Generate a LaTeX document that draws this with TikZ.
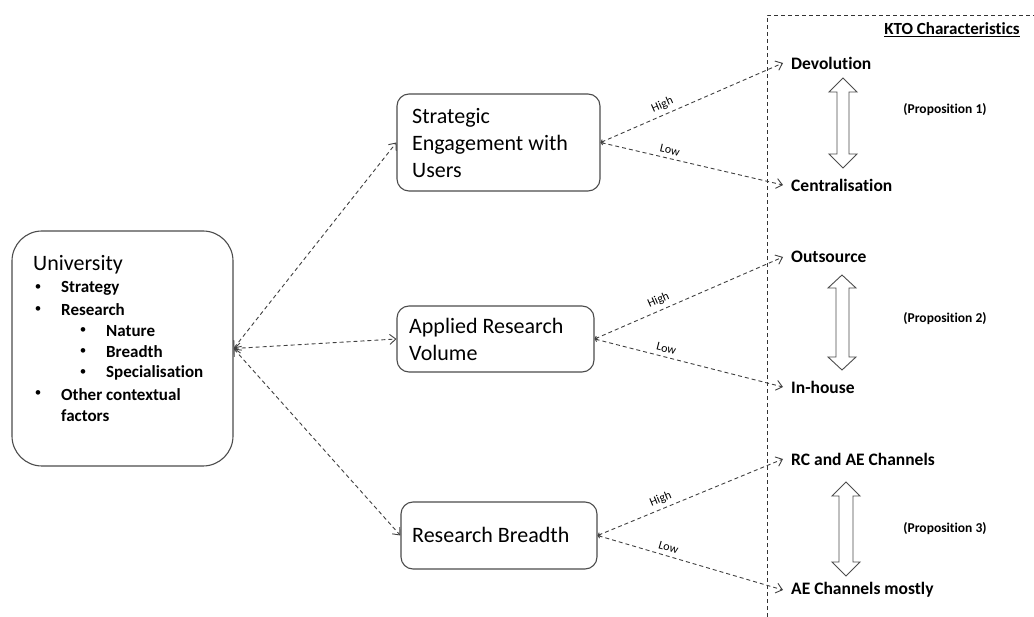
\documentclass[tikz,border=0pt]{standalone}
\usepackage{fontspec}
\setmainfont{Carlito}[Ligatures=NoCommon]
\usetikzlibrary{arrows.meta}
\begin{document}
\begin{tikzpicture}[x=1pt,y=-1pt,
  box/.style={draw=black!70, line width=1.1pt, rounded corners=12pt, inner sep=0pt},
  bigfont/.style={font=\fontsize{22}{27}\selectfont},
  listfont/.style={font=\fontsize{17}{21}\bfseries\selectfont},
  bul/.style={font=\fontsize{13}{15}\selectfont, anchor=center, inner sep=0pt},
  lab/.style={font=\fontsize{17.5}{21}\bfseries\selectfont, anchor=west, inner xsep=8pt, inner ysep=2pt},
  prop/.style={font=\fontsize{13.5}{16}\bfseries\selectfont},
  hl/.style={font=\fontsize{12}{14}\selectfont, sloped, above, inner sep=1pt, yshift=3pt},
  dsh/.style={dash pattern=on 4pt off 3pt},
  conn/.style={draw=black!75, line width=0.9pt, dsh,
    {Straight Barb[length=6pt,width=10pt]}-{Straight Barb[length=6pt,width=10pt]}},
  conn2/.style={draw=black!75, line width=0.9pt, dsh,
    {Straight Barb[length=2pt,width=4pt]}-{Straight Barb[length=6pt,width=10pt]}},
  blk/.style={draw=black!70, line width=0.9pt, fill=white}
]
\useasboundingbox (0,0) rectangle (1034,617);

% KTO frame
\draw[black!80, line width=0.9pt, dsh] (767,617) -- (767,15) -- (1034,15);
\node[font=\fontsize{17}{20}\bfseries\selectfont, inner sep=0pt] (kto) at (952,30) {\underline{KTO Characteristics}};

% University box
\node[box, rounded corners=30pt, minimum width=221pt, minimum height=235pt] (uni) at (122.5,348.5) {};
\node[font=\fontsize{22}{26}\selectfont, anchor=west, inner sep=0pt] (unit) at (33,265) {University};
\node[bul] (b1) at (38,288) {•};
\node[listfont, anchor=west, inner sep=0pt] (t1) at (61,288) {Strategy};
\node[bul] (b2) at (38,310) {•};
\node[listfont, anchor=west, inner sep=0pt] (t2) at (61,310) {Research};
\node[bul] (b3) at (83,331) {•};
\node[listfont, anchor=west, inner sep=0pt] (t3) at (106,331) {Nature};
\node[bul] (b4) at (83,352) {•};
\node[listfont, anchor=west, inner sep=0pt] (t4) at (106,352) {Breadth};
\node[bul] (b5) at (83,373) {•};
\node[listfont, anchor=west, inner sep=0pt] (t5) at (106,373) {Specialisation};
\node[bul] (b6) at (38,394) {•};
\node[listfont, anchor=west, inner sep=0pt, align=left] (t6) at (61,405) {Other contextual\\factors};

% Middle boxes
\node[box, minimum width=203pt, minimum height=97pt] (seu) at (498.5,142.5) {};
\node[bigfont, anchor=west, align=left, inner sep=0pt] (seut) at (412,143) {Strategic\\Engagement with\\Users};
\node[box, minimum width=197pt, minimum height=66pt] (arv) at (495.5,339) {};
\node[bigfont, anchor=west, align=left, inner sep=0pt] (arvt) at (409,339) {Applied Research\\Volume};
\node[box, minimum width=196pt, minimum height=67pt] (rb) at (499,535.5) {};
\node[bigfont, anchor=west, inner sep=0pt] (rbt) at (412,535) {Research Breadth};

% Right labels
\node[lab] (dev) at (783,63) {Devolution};
\node[lab] (cen) at (783,185) {Centralisation};
\node[lab] (out) at (783,257) {Outsource};
\node[lab] (inh) at (783,387) {In-house};
\node[lab] (rc) at (783,459) {RC and AE Channels};
\node[lab] (ae) at (783,590) {AE Channels mostly};

% Propositions
\node[prop] (p1) at (945,110) {(Proposition 1)};
\node[prop] (p2) at (945,319) {(Proposition 2)};
\node[prop] (p3) at (945,529) {(Proposition 3)};

% Block double arrows
\draw[blk] (843,78) -- (857,92) -- (849,92) -- (849,154) -- (857,154) -- (843,168) -- (829,154) -- (837,154) -- (837,92) -- (829,92) -- cycle;
\draw[blk] (842,275) -- (856,288) -- (849,288) -- (849,357) -- (856,357) -- (842,370) -- (828,357) -- (836,357) -- (836,288) -- (828,288) -- cycle;
\draw[blk] (846,482) -- (860,496) -- (853,496) -- (853,562) -- (860,562) -- (846,576) -- (832,562) -- (839,562) -- (839,496) -- (832,496) -- cycle;

% Connectors from University
\draw[conn] (uni.east) -- (seu.west);
\draw[conn] (uni.east) -- (arv.west);
\draw[conn] (uni.east) -- (rb.west);

% Connectors to characteristics
\draw[conn2] (seu.east) -- node[hl, pos=0.36] {High} (dev.west);
\draw[conn2] (seu.east) -- node[hl, pos=0.37] {Low} (cen.west);
\draw[conn2] (arv.east) -- node[hl, pos=0.36] {High} (out.west);
\draw[conn2] (arv.east) -- node[hl, pos=0.37] {Low} (inh.west);
\draw[conn2] (rb.east) -- node[hl, pos=0.36] {High} (rc.west);
\draw[conn2] (rb.east) -- node[hl, pos=0.37] {Low} (ae.west);
\end{tikzpicture}
\end{document}
